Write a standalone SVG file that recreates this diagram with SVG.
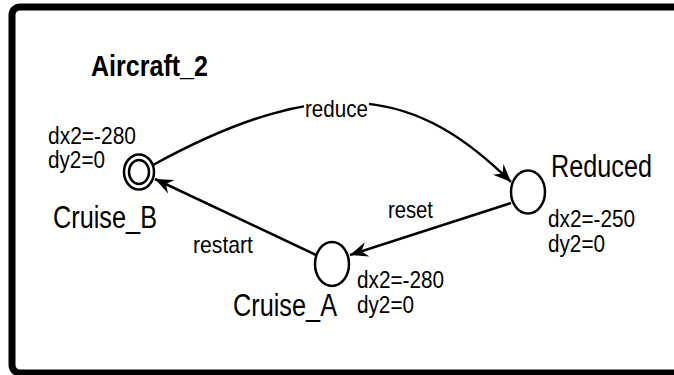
<svg xmlns="http://www.w3.org/2000/svg" width="674" height="375" viewBox="0 0 674 375">
  <style>
    .frame { fill: none; stroke: #000; stroke-width: 7; }
    .loc { fill: #fff; stroke: #000; stroke-width: 2.5; }
    .edge { fill: none; stroke: #000; stroke-width: 2.5; }
    text { font-family: "Liberation Sans", Arial, sans-serif; fill: #000; }
    .title { font-size: 30px; font-weight: bold; }
    .name { font-size: 31px; }
    .inv { font-size: 23px; }
    .lbl { font-size: 24px; }
  </style>
  <defs>
    <marker id="arrow" markerUnits="userSpaceOnUse" markerWidth="24" markerHeight="20" viewBox="-20 -10 22 20" refX="0" refY="0" orient="auto">
      <path d="M0,0 L-18,-7.5 L-12,0 L-18,7.5 Z" fill="#000"/>
    </marker>
  </defs>

  <rect width="674" height="375" fill="#fff"/>

  <!-- template frame -->
  <rect class="frame" x="12" y="7" width="740" height="366" rx="8"/>
  <text class="title" x="91" y="76" textLength="117" lengthAdjust="spacingAndGlyphs">Aircraft_2</text>

  <!-- transitions -->
  <g id="edges">
    <path id="e-reduce" class="edge" d="M153,165 C330,68 420,92 511,182" marker-end="url(#arrow)"/>
    <path id="e-reset" class="edge" d="M511,203 L350,255" marker-end="url(#arrow)"/>
    <path id="e-restart" class="edge" d="M316,255 L155,179" marker-end="url(#arrow)"/>
    <rect x="304" y="101" width="65" height="20" fill="#fff"/>
    <text class="lbl" x="305" y="117" textLength="63" lengthAdjust="spacingAndGlyphs">reduce</text>
    <text class="lbl" x="388" y="218" textLength="45" lengthAdjust="spacingAndGlyphs">reset</text>
    <text class="lbl" x="193" y="253" textLength="60" lengthAdjust="spacingAndGlyphs">restart</text>
  </g>

  <!-- initial location -->
  <g id="Cruise_B">
    <ellipse class="loc" cx="139" cy="172" rx="15" ry="17.5"/>
    <ellipse class="loc" cx="139" cy="172" rx="10" ry="12"/>
    <text class="inv" x="48" y="144" textLength="88" lengthAdjust="spacingAndGlyphs">dx2=-280</text>
    <text class="inv" x="48" y="168" textLength="57" lengthAdjust="spacingAndGlyphs">dy2=0</text>
    <text class="name" x="53" y="228" textLength="104" lengthAdjust="spacingAndGlyphs">Cruise_B</text>
  </g>

  <g id="Reduced">
    <ellipse class="loc" cx="528" cy="192" rx="17" ry="21.5"/>
    <text class="name" x="551" y="177" textLength="101" lengthAdjust="spacingAndGlyphs">Reduced</text>
    <text class="inv" x="548" y="227" textLength="87" lengthAdjust="spacingAndGlyphs">dx2=-250</text>
    <text class="inv" x="548" y="252" textLength="57" lengthAdjust="spacingAndGlyphs">dy2=0</text>
  </g>

  <g id="Cruise_A">
    <ellipse class="loc" cx="332" cy="264" rx="17" ry="22"/>
    <text class="name" x="233" y="316" textLength="104" lengthAdjust="spacingAndGlyphs">Cruise_A</text>
    <text class="inv" x="357" y="288" textLength="87" lengthAdjust="spacingAndGlyphs">dx2=-280</text>
    <text class="inv" x="357" y="313" textLength="57" lengthAdjust="spacingAndGlyphs">dy2=0</text>
  </g>
</svg>
